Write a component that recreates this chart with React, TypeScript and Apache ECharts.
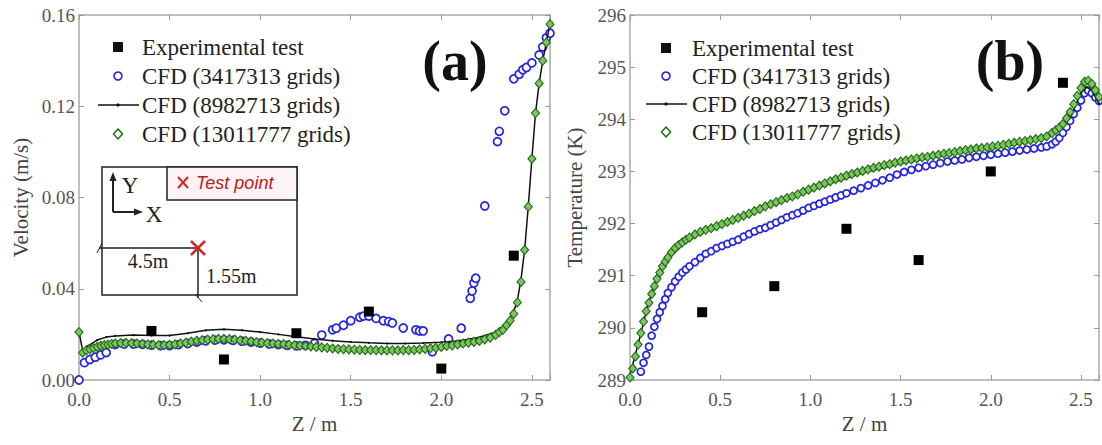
import React, { useEffect, useRef } from "react";
import * as echarts from "echarts";

const SERIF = "'Liberation Serif', 'Times New Roman', serif";
const SANS = "'Liberation Sans', Arial, sans-serif";

const seriesNames = [
  "Experimental test",
  "CFD (3417313 grids)",
  "CFD (8982713 grids)",
  "CFD (13011777 grids)",
];

// Experimental test points
const expZ = [0.4, 0.8, 1.2, 1.6, 2.0, 2.4];
const expVel = [0.0215, 0.009, 0.0205, 0.03, 0.005, 0.0545];
const expTemp = [290.3, 290.8, 291.9, 291.3, 293.0, 294.7];

// (a) velocity, coarse mesh [z, v]
const coarseVel: [number, number][] = [
  [0.0, 0.0], [0.03, 0.0076], [0.06, 0.009], [0.09, 0.01], [0.12, 0.011], [0.15, 0.012],
  [0.2, 0.0155], [0.25, 0.0158], [0.3, 0.0158], [0.35, 0.0156], [0.4, 0.0153], [0.45, 0.0151],
  [0.5, 0.0151], [0.55, 0.0155], [0.6, 0.016], [0.65, 0.0166], [0.7, 0.0172], [0.75, 0.0175],
  [0.8, 0.0176], [0.85, 0.0174], [0.9, 0.017], [0.95, 0.0166], [1.0, 0.0162], [1.05, 0.0158],
  [1.1, 0.0155], [1.15, 0.0152], [1.2, 0.015], [1.25, 0.0152], [1.3, 0.016],
  [1.34, 0.0197], [1.4, 0.022], [1.42, 0.0227], [1.46, 0.024], [1.5, 0.026], [1.55, 0.0275],
  [1.57, 0.028], [1.6, 0.028], [1.64, 0.027], [1.68, 0.026], [1.71, 0.0256], [1.73, 0.025],
  [1.79, 0.0228], [1.86, 0.022], [1.88, 0.0215], [1.9, 0.0215],
  [1.95, 0.0124], [2.04, 0.018], [2.11, 0.0227],
  [2.16, 0.0358], [2.17, 0.039], [2.18, 0.0425], [2.19, 0.0446],
  [2.24, 0.0763], [2.31, 0.1045], [2.32, 0.109], [2.35, 0.118],
  [2.4, 0.132], [2.43, 0.134], [2.45, 0.136], [2.47, 0.137], [2.5, 0.139],
  [2.54, 0.1425], [2.56, 0.146], [2.58, 0.15], [2.6, 0.152],
];

// (a) velocity, medium mesh (line)
const mediumVel: [number, number][] = [
  [0, 0.021], [0.02, 0.013], [0.05, 0.015], [0.1, 0.0175], [0.15, 0.0188], [0.2, 0.0193],
  [0.3, 0.0197], [0.4, 0.0195], [0.5, 0.0195], [0.6, 0.0205], [0.7, 0.0218], [0.8, 0.0222],
  [0.9, 0.0218], [1.0, 0.021], [1.1, 0.02], [1.2, 0.019], [1.3, 0.018], [1.4, 0.0172],
  [1.5, 0.0167], [1.6, 0.0163], [1.7, 0.016], [1.8, 0.016], [1.9, 0.0162], [2.0, 0.0166],
  [2.1, 0.0172], [2.2, 0.0185], [2.3, 0.021], [2.36, 0.025], [2.4, 0.03], [2.42, 0.035],
  [2.44, 0.044], [2.46, 0.057], [2.48, 0.076], [2.5, 0.097], [2.52, 0.117], [2.54, 0.13],
  [2.56, 0.14], [2.58, 0.148], [2.6, 0.156],
];

// (a) velocity, fine mesh
const fineVel: [number, number][] = [
  [0, 0.021], [0.02, 0.012], [0.04, 0.013], [0.06, 0.0135], [0.08, 0.014], [0.1, 0.0145],
  [0.12, 0.015], [0.14, 0.0153], [0.16, 0.0155], [0.18, 0.0158],
  [0.2, 0.016], [0.23, 0.0162], [0.26, 0.0163], [0.29, 0.0162], [0.32, 0.016], [0.35, 0.0158],
  [0.38, 0.0156], [0.41, 0.0155], [0.44, 0.0153], [0.47, 0.0153], [0.5, 0.0154], [0.53, 0.0156],
  [0.56, 0.016], [0.59, 0.0164], [0.62, 0.0168], [0.65, 0.0172], [0.68, 0.0175], [0.71, 0.0177],
  [0.74, 0.0179], [0.77, 0.018], [0.8, 0.018], [0.83, 0.0179], [0.86, 0.0177], [0.89, 0.0174],
  [0.92, 0.0172], [0.95, 0.0169], [0.98, 0.0166], [1.01, 0.0164], [1.04, 0.0162], [1.07, 0.016],
  [1.1, 0.0158], [1.13, 0.0157], [1.16, 0.0155], [1.19, 0.0153], [1.22, 0.0151], [1.25, 0.0149],
  [1.28, 0.0147], [1.31, 0.0145], [1.34, 0.0143], [1.37, 0.0141], [1.4, 0.0138], [1.43, 0.0136],
  [1.46, 0.0135], [1.49, 0.0134], [1.52, 0.0133], [1.55, 0.0132], [1.58, 0.0131], [1.61, 0.0131],
  [1.64, 0.0131], [1.67, 0.013], [1.7, 0.013], [1.73, 0.013], [1.76, 0.013], [1.79, 0.0131],
  [1.82, 0.0131], [1.85, 0.0132], [1.88, 0.0134], [1.91, 0.0136], [1.94, 0.0139], [1.97, 0.0141],
  [2.0, 0.0145], [2.03, 0.0149], [2.06, 0.0152], [2.09, 0.0156], [2.12, 0.016], [2.15, 0.0164],
  [2.18, 0.0167], [2.21, 0.0171], [2.24, 0.0178], [2.27, 0.0186], [2.3, 0.0198], [2.32, 0.021],
  [2.34, 0.022], [2.36, 0.024], [2.38, 0.026], [2.4, 0.029], [2.42, 0.034], [2.44, 0.043],
  [2.46, 0.057], [2.48, 0.076], [2.5, 0.097], [2.52, 0.117], [2.54, 0.13], [2.56, 0.14],
  [2.58, 0.148], [2.6, 0.156],
];

// (b) temperature, coarse mesh
const coarseTemp: [number, number][] = [
  [0.06, 289.16], [0.075, 289.33], [0.09, 289.48], [0.105, 289.64], [0.12, 289.85], [0.135, 290.02],
  [0.15, 290.17], [0.165, 290.3], [0.18, 290.42], [0.195, 290.55], [0.21, 290.67], [0.23, 290.78],
  [0.25, 290.89], [0.27, 290.98], [0.29, 291.06], [0.31, 291.12], [0.33, 291.18], [0.36, 291.26],
  [0.39, 291.34], [0.42, 291.42], [0.45, 291.47], [0.48, 291.53], [0.51, 291.57], [0.54, 291.61],
  [0.57, 291.65], [0.6, 291.69], [0.63, 291.75], [0.66, 291.8], [0.69, 291.85], [0.72, 291.89],
  [0.75, 291.92], [0.78, 291.97], [0.81, 292.02], [0.84, 292.07], [0.87, 292.12], [0.9, 292.16],
  [0.93, 292.2], [0.96, 292.25], [0.99, 292.3], [1.02, 292.34], [1.05, 292.38], [1.08, 292.42],
  [1.11, 292.46], [1.14, 292.5], [1.17, 292.54], [1.2, 292.58], [1.24, 292.63], [1.28, 292.68],
  [1.32, 292.73], [1.36, 292.78], [1.4, 292.83], [1.44, 292.88], [1.48, 292.94], [1.52, 292.99],
  [1.56, 293.03], [1.6, 293.07], [1.64, 293.1], [1.68, 293.13], [1.72, 293.16], [1.76, 293.19],
  [1.8, 293.21], [1.84, 293.23], [1.88, 293.26], [1.92, 293.28], [1.96, 293.3], [2.0, 293.32],
  [2.04, 293.34], [2.08, 293.36], [2.12, 293.38], [2.16, 293.4], [2.2, 293.42], [2.24, 293.44],
  [2.28, 293.46], [2.31, 293.48], [2.34, 293.52], [2.36, 293.57], [2.38, 293.64], [2.4, 293.74],
  [2.42, 293.85], [2.44, 293.97], [2.46, 294.1], [2.48, 294.22], [2.5, 294.36], [2.52, 294.5],
  [2.54, 294.55], [2.56, 294.5], [2.58, 294.42], [2.6, 294.35],
];

// (b) temperature, medium mesh (line)
const mediumTemp: [number, number][] = [
  [0, 289.1], [0.05, 289.75], [0.1, 290.45], [0.15, 290.95], [0.2, 291.28], [0.3, 291.62],
  [0.4, 291.83], [0.5, 291.98], [0.7, 292.24], [0.9, 292.49], [1.1, 292.76], [1.3, 292.98],
  [1.5, 293.15], [1.7, 293.28], [1.9, 293.39], [2.1, 293.49], [2.3, 293.63], [2.4, 293.85],
  [2.45, 294.1], [2.5, 294.5], [2.53, 294.62], [2.56, 294.55], [2.6, 294.3],
];

// (b) temperature, fine mesh
const fineTemp: [number, number][] = [
  [0, 289.05], [0.015, 289.22], [0.03, 289.45], [0.045, 289.68], [0.06, 289.9], [0.075, 290.12],
  [0.09, 290.32], [0.105, 290.48], [0.12, 290.65], [0.135, 290.8], [0.15, 290.94], [0.165, 291.06],
  [0.18, 291.18], [0.195, 291.27], [0.21, 291.35], [0.23, 291.45], [0.25, 291.53], [0.27, 291.59],
  [0.29, 291.64], [0.31, 291.69], [0.33, 291.73], [0.36, 291.79], [0.39, 291.84], [0.42, 291.88],
  [0.45, 291.91], [0.48, 291.95], [0.51, 291.99], [0.54, 292.03], [0.57, 292.07], [0.6, 292.11],
  [0.63, 292.15], [0.66, 292.19], [0.69, 292.24], [0.72, 292.28], [0.75, 292.33], [0.78, 292.37],
  [0.81, 292.41], [0.84, 292.45], [0.87, 292.49], [0.9, 292.52], [0.93, 292.56], [0.96, 292.61],
  [0.99, 292.65], [1.02, 292.69], [1.05, 292.73], [1.08, 292.77], [1.11, 292.81], [1.14, 292.85],
  [1.17, 292.88], [1.2, 292.92], [1.23, 292.95], [1.26, 292.98], [1.29, 293.01], [1.32, 293.04],
  [1.35, 293.07], [1.38, 293.09], [1.41, 293.12], [1.44, 293.14], [1.47, 293.17], [1.5, 293.19],
  [1.53, 293.21], [1.56, 293.23], [1.59, 293.25], [1.62, 293.27], [1.65, 293.28], [1.68, 293.3],
  [1.71, 293.32], [1.74, 293.34], [1.77, 293.35], [1.8, 293.37], [1.83, 293.39], [1.86, 293.41],
  [1.89, 293.42], [1.92, 293.44], [1.95, 293.45], [1.98, 293.46], [2.01, 293.48], [2.04, 293.49],
  [2.07, 293.51], [2.1, 293.53], [2.13, 293.55], [2.16, 293.57], [2.19, 293.58], [2.22, 293.6],
  [2.25, 293.62], [2.28, 293.64], [2.31, 293.67], [2.34, 293.74], [2.36, 293.79], [2.38, 293.84],
  [2.4, 293.91], [2.42, 294.02], [2.44, 294.14], [2.46, 294.29], [2.48, 294.45], [2.5, 294.6],
  [2.52, 294.72], [2.54, 294.74], [2.56, 294.68], [2.58, 294.56], [2.6, 294.43],
];

const AXIS_COLOR = "#aaa";
const BLUE = "#2424e0";
const GREEN_EDGE = "#1e6b12";
const GREEN_FILL = "#80c266";

function xAxisPair(gridIndex: number) {
  const common = {
    type: "value",
    gridIndex,
    min: 0,
    max: 2.6,
    interval: 0.5,
    splitLine: { show: false },
    axisLine: { show: true, onZero: false, lineStyle: { color: AXIS_COLOR, width: 1.5 } },
    axisTick: { show: true, inside: true, length: 5, lineStyle: { color: "#999" } },
  };
  return [
    {
      ...common,
      position: "bottom",
      name: "Z / m",
      nameLocation: "middle",
      nameGap: 32,
      nameTextStyle: { fontFamily: SERIF, fontSize: 21, color: "#444" },
      axisLabel: {
        fontFamily: SERIF,
        fontSize: 19,
        color: "#555",
        margin: 10,
        formatter: (v: number) =>
          Math.abs(v / 0.5 - Math.round(v / 0.5)) < 1e-6 ? v.toFixed(1) : "",
      },
    },
    { ...common, position: "top", axisLabel: { show: false } },
  ];
}

function yAxisPair(
  gridIndex: number,
  min: number,
  max: number,
  interval: number,
  digits: number,
  name: string,
  nameGap: number
) {
  const common = {
    type: "value",
    gridIndex,
    min,
    max,
    interval,
    splitLine: { show: false },
    axisLine: { show: true, onZero: false, lineStyle: { color: AXIS_COLOR, width: 1.5 } },
    axisTick: { show: true, inside: true, length: 5, lineStyle: { color: "#999" } },
  };
  return [
    {
      ...common,
      position: "left",
      name,
      nameLocation: "middle",
      nameGap,
      nameTextStyle: { fontFamily: SERIF, fontSize: 21, color: "#444" },
      axisLabel: {
        fontFamily: SERIF,
        fontSize: 19,
        color: "#555",
        margin: 4,
        formatter: (v: number) => v.toFixed(digits),
      },
    },
    { ...common, position: "right", axisLabel: { show: false } },
  ];
}

function legendGraphics(sx: number, tx: number, rows: number[]) {
  const ts = {
    fontFamily: SERIF,
    fontSize: 23,
    fill: "#222",
    textVerticalAlign: "middle",
    verticalAlign: "middle",
  };
  return [
    { type: "rect", shape: { x: sx - 5, y: rows[0] - 5, width: 10, height: 10 }, style: { fill: "#111" } },
    {
      type: "circle",
      shape: { cx: sx, cy: rows[1], r: 4 },
      style: { fill: "#fff", stroke: BLUE, lineWidth: 1.6 },
    },
    {
      type: "line",
      shape: { x1: sx - 20, y1: rows[2], x2: sx + 21, y2: rows[2] },
      style: { stroke: "#111", lineWidth: 1.5 },
    },
    { type: "circle", shape: { cx: sx, cy: rows[2], r: 1.6 }, style: { fill: "#111" } },
    {
      type: "polygon",
      shape: {
        points: [
          [sx, rows[3] - 5],
          [sx + 4.5, rows[3]],
          [sx, rows[3] + 5],
          [sx - 4.5, rows[3]],
        ],
      },
      style: { fill: "#fff", stroke: GREEN_EDGE, lineWidth: 1.5 },
    },
    ...seriesNames.map((t, i) => ({
      type: "text",
      style: { ...ts, text: t, x: tx, y: rows[i] },
    })),
  ];
}

function insetGraphics() {
  const red = "#d02828";
  const dark = "#222";
  return [
    {
      type: "rect",
      shape: { x: 102, y: 167, width: 195, height: 128 },
      style: { fill: "#fff", stroke: dark, lineWidth: 1.5 },
    },
    {
      type: "rect",
      shape: { x: 167, y: 167, width: 130, height: 33 },
      style: { fill: "#fdf3f3", stroke: dark, lineWidth: 1.5 },
    },
    { type: "line", shape: { x1: 113, y1: 212, x2: 113, y2: 179 }, style: { stroke: dark, lineWidth: 2 } },
    { type: "polygon", shape: { points: [[113, 172], [109.5, 181], [116.5, 181]] }, style: { fill: dark } },
    { type: "line", shape: { x1: 113, y1: 212, x2: 136, y2: 212 }, style: { stroke: dark, lineWidth: 2 } },
    { type: "polygon", shape: { points: [[143, 212], [134, 208.5], [134, 215.5]] }, style: { fill: dark } },
    {
      type: "text",
      style: { text: "Y", x: 130, y: 185, fontFamily: SERIF, fontSize: 23, fill: dark, align: "center", textAlign: "center", verticalAlign: "middle", textVerticalAlign: "middle" },
    },
    {
      type: "text",
      style: { text: "X", x: 154, y: 214, fontFamily: SERIF, fontSize: 23, fill: dark, align: "center", textAlign: "center", verticalAlign: "middle", textVerticalAlign: "middle" },
    },
    { type: "line", shape: { x1: 178, y1: 177, x2: 188, y2: 188 }, style: { stroke: red, lineWidth: 2 } },
    { type: "line", shape: { x1: 178, y1: 188, x2: 188, y2: 177 }, style: { stroke: red, lineWidth: 2 } },
    {
      type: "text",
      style: { text: "Test point", x: 196, y: 183, fontFamily: SANS, fontStyle: "italic", fontSize: 18, fill: "#b82020", verticalAlign: "middle", textVerticalAlign: "middle" },
    },
    { type: "line", shape: { x1: 99, y1: 248, x2: 198, y2: 248 }, style: { stroke: dark, lineWidth: 1.5 } },
    { type: "line", shape: { x1: 97, y1: 253, x2: 102, y2: 243 }, style: { stroke: dark, lineWidth: 1 } },
    { type: "line", shape: { x1: 198, y1: 248, x2: 198, y2: 298 }, style: { stroke: dark, lineWidth: 1.5 } },
    { type: "line", shape: { x1: 195, y1: 294, x2: 202, y2: 302 }, style: { stroke: dark, lineWidth: 1 } },
    { type: "line", shape: { x1: 191, y1: 241, x2: 205, y2: 255 }, style: { stroke: red, lineWidth: 2.5 } },
    { type: "line", shape: { x1: 191, y1: 255, x2: 205, y2: 241 }, style: { stroke: red, lineWidth: 2.5 } },
    {
      type: "text",
      style: { text: "4.5m", x: 148, y: 261, fontFamily: SERIF, fontSize: 20, fill: dark, align: "center", textAlign: "center", verticalAlign: "middle", textVerticalAlign: "middle" },
    },
    {
      type: "text",
      style: { text: "1.55m", x: 206, y: 276, fontFamily: SERIF, fontSize: 20, fill: dark, verticalAlign: "middle", textVerticalAlign: "middle" },
    },
  ];
}

function panelLabel(text: string, x: number, y: number) {
  return {
    type: "text",
    style: {
      text,
      x,
      y,
      fontFamily: SERIF,
      fontWeight: "bold",
      fontSize: 56,
      fill: "#111",
      align: "center",
      textAlign: "center",
      verticalAlign: "middle",
      textVerticalAlign: "middle",
    },
  };
}

function panelSeries(
  xi: number,
  yi: number,
  exp: [number, number][],
  coarse: [number, number][],
  medium: [number, number][],
  fine: [number, number][],
  circleSize: number
) {
  return [
    {
      name: seriesNames[1],
      type: "scatter",
      xAxisIndex: xi,
      yAxisIndex: yi,
      data: coarse,
      symbol: "circle",
      symbolSize: circleSize,
      itemStyle: { color: "#fff", borderColor: BLUE, borderWidth: 1.7, opacity: 1 },
      z: 2,
    },
    {
      name: seriesNames[2],
      type: "line",
      xAxisIndex: xi,
      yAxisIndex: yi,
      data: medium,
      symbol: "circle",
      symbolSize: 2,
      showSymbol: true,
      itemStyle: { color: "#111", opacity: 1 },
      lineStyle: { color: "#111", width: 1.5 },
      z: 3,
    },
    {
      name: seriesNames[3],
      type: "scatter",
      xAxisIndex: xi,
      yAxisIndex: yi,
      data: fine,
      symbol: "diamond",
      symbolSize: [8, 9],
      itemStyle: { color: GREEN_FILL, borderColor: GREEN_EDGE, borderWidth: 1.1, opacity: 1 },
      z: 4,
    },
    {
      name: seriesNames[0],
      type: "scatter",
      xAxisIndex: xi,
      yAxisIndex: yi,
      data: exp,
      symbol: "rect",
      symbolSize: 10,
      itemStyle: { color: "#000", opacity: 1 },
      z: 5,
    },
  ];
}

export default function App() {
  const ref = useRef<HTMLDivElement>(null);

  useEffect(() => {
    if (!ref.current) return;
    const chart = echarts.init(ref.current, undefined, { renderer: "svg" });
    const expA = expZ.map((z, i) => [z, expVel[i]] as [number, number]);
    const expB = expZ.map((z, i) => [z, expTemp[i]] as [number, number]);

    chart.setOption({
      animation: false,
      backgroundColor: "#fff",
      grid: [
        { left: 79, top: 15, width: 471, height: 365 },
        { left: 630, top: 15, width: 470, height: 365 },
      ],
      xAxis: [...xAxisPair(0), ...xAxisPair(1)],
      yAxis: [
        ...yAxisPair(0, 0, 0.16, 0.04, 2, "Velocity (m/s)", 48),
        ...yAxisPair(1, 289, 296, 1, 0, "Temperature (K)", 45),
      ],
      series: [
        ...panelSeries(0, 0, expA, coarseVel, mediumVel, fineVel, 8),
        ...panelSeries(2, 2, expB, coarseTemp, mediumTemp, fineTemp, 7),
      ],
      graphic: [
        ...legendGraphics(118, 142, [47, 76, 105, 134]),
        ...legendGraphics(666, 692, [48, 76, 104, 132]),
        ...insetGraphics(),
        panelLabel("(a)", 455, 61),
        panelLabel("(b)", 1010, 61),
      ],
    });

    return () => chart.dispose();
  }, []);

  return (
    <div
      ref={ref}
      style={{ position: "fixed", left: 0, top: 0, width: 1102, height: 445, background: "#fff" }}
    />
  );
}
